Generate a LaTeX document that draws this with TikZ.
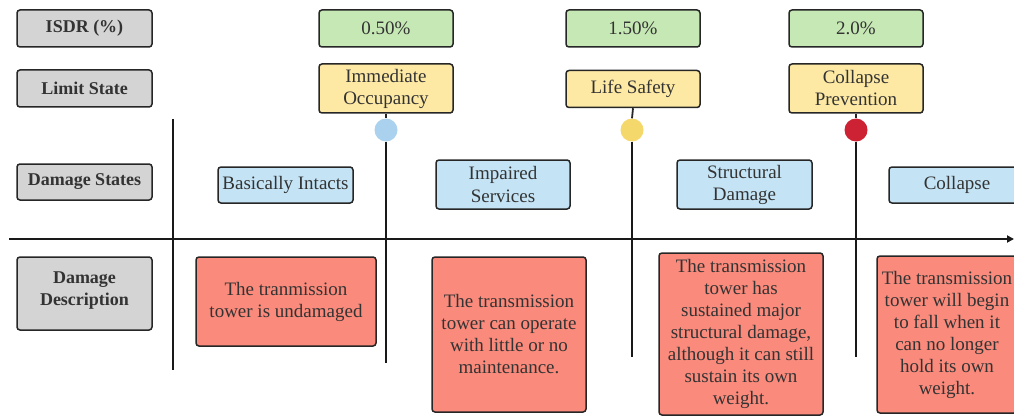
\documentclass[tikz,border=0pt]{standalone}
\usepackage{fontspec}
\setmainfont{Liberation Serif}
\usetikzlibrary{arrows.meta}
\definecolor{txt}{HTML}{333333}
\definecolor{greyfill}{HTML}{D4D4D4}
\definecolor{greenfill}{HTML}{C6E8B4}
\definecolor{yellowfill}{HTML}{FDE9A4}
\definecolor{bluefill}{HTML}{C4E4F6}
\definecolor{redfill}{HTML}{FA8A7B}
\definecolor{dotblue}{HTML}{AAD2EE}
\definecolor{dotyellow}{HTML}{F5D86C}
\definecolor{dotred}{HTML}{CC2233}
\begin{document}
\begin{tikzpicture}[x=1pt,y=-1pt,
  box/.style={draw=black!85, line width=1.5pt, rounded corners=3pt,
    align=center, text=txt, inner sep=2pt,
    font=\fontsize{19}{22}\selectfont},
  labelbox/.style={box, fill=greyfill, minimum width=135pt, font=\fontsize{18}{22}\selectfont\bfseries},
  isdrbox/.style={box, fill=greenfill, minimum width=134pt, minimum height=37pt},
  limitbox/.style={box, fill=yellowfill, minimum width=134pt},
  statebox/.style={box, fill=bluefill},
  descbox/.style={box, fill=redfill},
  dot/.style={circle, minimum size=23pt, inner sep=0pt},
  rule/.style={line width=2.4pt, black!90},
]
\useasboundingbox (0,0) rectangle (1014,417);
\clip (0,0) rectangle (1014,417);

% row headings
\node[labelbox, minimum height=37pt] (hIsdr) at (84.5,28.5) {ISDR (\%)};
\node[labelbox, minimum height=37pt] (hLimit) at (84.5,88.5) {Limit State};
\node[labelbox, minimum height=36pt] (hDamage) at (84.5,182) {Damage States};
\node[labelbox, minimum height=73pt, text depth=10pt] (hDesc) at (84.5,293.5) {Damage\\Description};

% drift ratios
\node[isdrbox] (d1) at (386,28.5) {0.50\%};
\node[isdrbox] (d2) at (633,28.5) {1.50\%};
\node[isdrbox] (d3) at (856,28.5) {2.0\%};

% limit states
\node[limitbox, minimum height=49pt] (io) at (386,88.5) {Immediate\\Occupancy};
\node[limitbox, minimum height=37pt] (ls) at (633,89) {Life Safety};
\node[limitbox, minimum height=49pt] (cp) at (856,88.5) {Collapse\\Prevention};

% threshold markers
\node[dot, fill=dotblue] (m1) at (386,130) {};
\node[dot, fill=dotyellow] (m2) at (632,130) {};
\node[dot, fill=dotred] (m3) at (856,130) {};

\coordinate (e1) at (386,363);
\coordinate (e2) at (632,357);
\coordinate (e3) at (856,357);

\draw[line width=1.8pt, black!85] (io.south) -- (m1.north);
\draw[line width=1.8pt, black!85] (ls.south) -- (m2.north);
\draw[line width=1.8pt, black!85] (cp.south) -- (m3.north);
\draw[rule] (m1.south) -- (e1);
\draw[rule] (m2.south) -- (e2);
\draw[rule] (m3.south) -- (e3);

% axes
\coordinate (vTop) at (173,119);
\coordinate (vBot) at (173,370);
\coordinate (hL) at (9,239);
\coordinate (hR) at (1014,239);
\draw[rule] (vTop) -- (vBot);
\draw[rule, -{Triangle[length=7pt,width=7pt]}] (hL) -- (hR);

% damage states
\node[statebox, minimum width=135pt, minimum height=36pt] (s1) at (285.5,185) {Basically Intacts};
\node[statebox, minimum width=134pt, minimum height=49pt] (s2) at (503,184.5) {Impaired\\Services};
\node[statebox, minimum width=135pt, minimum height=49pt] (s3) at (744.5,184.5) {Structural\\Damage};
\node[statebox, minimum width=136pt, minimum height=36pt] (s4) at (957,185) {Collapse};

% damage descriptions
\node[descbox, minimum width=180pt, minimum height=89pt] (r1) at (286,301.5)
  {The tranmission\\tower is undamaged};
\node[descbox, minimum width=154pt, minimum height=155pt] (r2) at (509,334.5)
  {The transmission\\tower can operate\\with little or no\\maintenance.};
\node[descbox, minimum width=164pt, minimum height=162pt] (r3) at (741,334)
  {The transmission\\tower has\\sustained major\\structural damage,\\although it can still\\sustain its own\\weight.};
\node[descbox, minimum width=140pt, minimum height=157pt] (r4) at (947,334.5)
  {The transmission\\tower will begin\\to fall when it\\can no longer\\hold its own\\weight.};
\end{tikzpicture}
\end{document}
